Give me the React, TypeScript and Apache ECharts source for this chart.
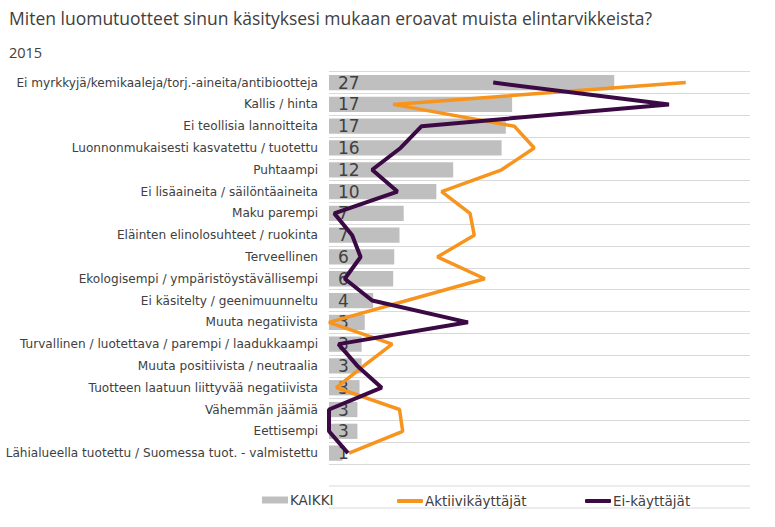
import React, { useEffect, useRef } from "react";
import * as echarts from "echarts";

const categories = [
  "Ei myrkkyjä/kemikaaleja/torj.-aineita/antibiootteja",
  "Kallis / hinta",
  "Ei teollisia lannoitteita",
  "Luonnonmukaisesti kasvatettu / tuotettu",
  "Puhtaampi",
  "Ei lisäaineita / säilöntäaineita",
  "Maku parempi",
  "Eläinten elinolosuhteet / ruokinta",
  "Terveellinen",
  "Ekologisempi / ympäristöystävällisempi",
  "Ei käsitelty / geenimuunneltu",
  "Muuta negatiivista",
  "Turvallinen / luotettava / parempi / laadukkaampi",
  "Muuta positiivista / neutraalia",
  "Tuotteen laatuun liittyvää negatiivista",
  "Vähemmän jäämiä",
  "Eettisempi",
  "Lähialueella tuotettu / Suomessa tuot. - valmistettu",
];

const kaikki = [27.1, 17.4, 16.8, 16.4, 11.8, 10.2, 7.1, 6.7, 6.2, 6.1, 4.2, 3.4, 3.1, 3.1, 2.9, 2.7, 2.7, 1.3];
const aktiivi = [33.9, 6.1, 17.6, 19.5, 16.4, 10.7, 13.4, 13.8, 10.3, 14.8, 7.4, 0.0, 6.0, 3.3, 0.7, 6.7, 7.0, 1.9];
const eiKayttajat = [15.6, 32.3, 8.8, 6.8, 4.1, 6.5, 0.5, 2.2, 3.0, 1.5, 4.1, 13.2, 0.9, 2.7, 5.0, 0.0, 0.0, 1.8];

const seriesNames = ["KAIKKI", "Aktiivikäyttäjät", "Ei-käyttäjät"];

const FONT = "DejaVu Sans, Verdana, sans-serif";

export default function App() {
  const ref = useRef<HTMLDivElement>(null);
  useEffect(() => {
    if (!ref.current) return;
    const chart = echarts.init(ref.current, null, { renderer: "svg" });
    const legendBase = {
      top: 493,
      itemWidth: 26,
      itemGap: 0,
      textStyle: { color: "#404040", fontSize: 13.5, fontFamily: FONT, padding: [0, 0, 0, -3] },
      padding: 0,
    };
    chart.setOption({
      animation: false,
      title: [
        {
          text: "Miten luomutuotteet sinun käsityksesi mukaan eroavat muista elintarvikkeista?",
          left: 9,
          top: 9,
          padding: 0,
          textStyle: { color: "#404040", fontSize: 17.5, fontWeight: "normal", fontFamily: "Open Sans, sans-serif" },
        },
        {
          text: "2015",
          left: 9,
          top: 45,
          padding: 0,
          textStyle: { color: "#404040", fontSize: 14.5, fontWeight: "normal", fontFamily: "Open Sans, sans-serif" },
        },
      ],
      legend: [
        { ...legendBase, left: 262, itemHeight: 7, data: [{ name: seriesNames[0], icon: "rect" }] },
        { ...legendBase, left: 397, top: 494, itemHeight: 4, data: [{ name: seriesNames[1], icon: "roundRect" }] },
        { ...legendBase, left: 585, top: 494, itemHeight: 4, data: [{ name: seriesNames[2], icon: "roundRect" }] },
      ],
      grid: { left: 329, right: 25, top: 71.7, bottom: 63, containLabel: false, outerBoundsMode: "none" },
      xAxis: {
        type: "value",
        min: 0,
        max: 40,
        show: false,
      },
      yAxis: {
        type: "category",
        inverse: true,
        data: categories,
        axisLine: { show: false },
        axisTick: { show: false },
        splitLine: { show: true, lineStyle: { color: "#d9d9d9", width: 1 } },
        axisLabel: { color: "#404040", fontSize: 12.1, fontFamily: FONT, margin: 11 },
      },
      graphic: [
        { type: "line", shape: { x1: 329, y1: 486, x2: 750, y2: 486 }, style: { stroke: "#d9d9d9", lineWidth: 1 } },
        { type: "line", shape: { x1: 329, y1: 508, x2: 750, y2: 508 }, style: { stroke: "#d9d9d9", lineWidth: 1 } },
      ],
      series: [
        {
          name: seriesNames[0],
          type: "bar",
          data: kaikki,
          barCategoryGap: "30%",
          itemStyle: { color: "#bfbfbf" },
          z: 2,
          label: {
            show: true,
            position: "insideLeft",
            offset: [4, 0],
            color: "#404040",
            fontSize: 17,
            fontFamily: FONT,
            formatter: (p: any) => String(Math.round(p.value)),
          },
        },
        {
          name: seriesNames[1],
          type: "line",
          data: aktiivi,
          symbol: "none",
          z: 3,
          lineStyle: { color: "#f7941d", width: 3.5 },
          itemStyle: { color: "#f7941d" },
        },
        {
          name: seriesNames[2],
          type: "line",
          data: eiKayttajat,
          symbol: "none",
          z: 4,
          lineStyle: { color: "#3b0a45", width: 4 },
          itemStyle: { color: "#3b0a45" },
        },
      ],
    });
    return () => chart.dispose();
  }, []);
  return <div ref={ref} style={{ width: 775, height: 527, position: "absolute", left: 0, top: 0 }} />;
}
